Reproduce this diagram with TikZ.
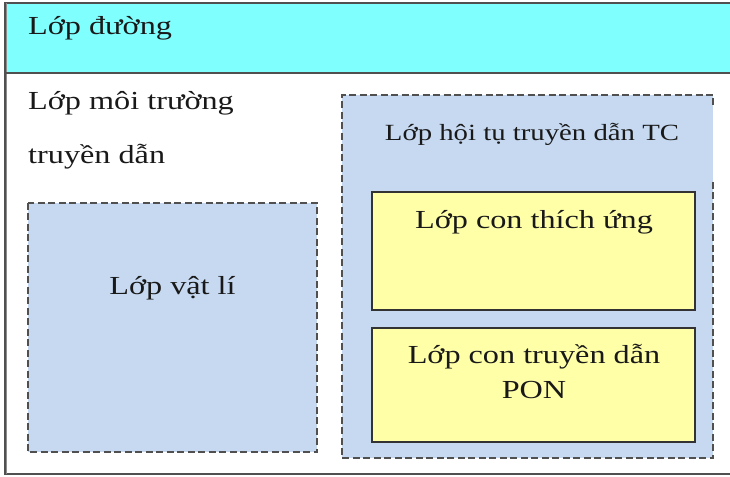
\documentclass[tikz,border=0pt]{standalone}
\usepackage{fontspec}
\setmainfont{Liberation Serif}[FakeStretch=1.24]
\definecolor{cyanband}{RGB}{128,255,255}
\definecolor{layerblue}{RGB}{198,217,241}
\definecolor{subyellow}{RGB}{255,255,168}
\definecolor{edgegrey}{RGB}{80,80,80}
\begin{document}
\begin{tikzpicture}[x=1pt,y=-1pt,
  lbl/.style={inner sep=0pt, text=black!90, font=\fontsize{26}{30}\selectfont},
  lblsmall/.style={inner sep=0pt, text=black!90, font=\fontsize{23.2}{27}\selectfont},
  frame/.style={draw=edgegrey, line width=2pt},
  dashline/.style={draw=edgegrey, line width=2.2pt, dash pattern=on 7pt off 3.5pt},
  bluebox/.style={fill=layerblue, inner sep=0pt},
  subbox/.style={draw=black!80, line width=1.7pt, fill=subyellow, inner sep=0pt}]
\useasboundingbox (0,0) rectangle (730,476);
\fill[white] (0,0) rectangle (730,476);

% outer frame with the cyan top band
\fill[cyanband] (5,3) rectangle (734,73);
\draw[frame] (734,3) -- (5,3) -- (5,474) -- (734,474);
\draw[draw=black!45, line width=1.2pt] (6.8,3) -- (6.8,474);
\draw[frame] (5,73) -- (734,73);
\node[lbl, anchor=base west] (duong) at (28,35) {Lớp đường};

% transmission medium layer
\node[lbl, anchor=base west] (moitruong) at (28,110) {Lớp môi trường};
\node[lbl, anchor=base west] (truyendan) at (28,163) {truyền dẫn};

% physical layer
\node[bluebox, minimum width=289pt, minimum height=249pt] (vatli) at (172.5,327.5) {};
\draw[dashline] (vatli.north west) rectangle (vatli.south east);
\node[lbl, anchor=base] (vatlitext) at (172.5,294) {Lớp vật lí};

% TC layer (its right edge is broken near the top)
\node[bluebox, minimum width=371pt, minimum height=363pt] (tc) at (527.5,276.5) {};
\draw[dashline] ([yshift=-87pt]tc.north east) -- (tc.south east) -- (tc.south west)
  -- (tc.north west) -- (tc.north east) -- ([yshift=-13pt]tc.north east);
\node[lblsmall, anchor=base] (tctext) at (532,140) {Lớp hội tụ truyền dẫn TC};

% sublayers
\node[subbox, minimum width=323pt, minimum height=118pt] (thichung) at (533.5,251) {};
\node[lbl, anchor=base] (thichungtext) at (534,228) {Lớp con thích ứng};
\node[subbox, minimum width=323pt, minimum height=114pt] (pon) at (533.5,385) {};
\node[lbl, anchor=base] (pontext1) at (534,363) {Lớp con truyền dẫn};
\node[lbl, anchor=base] (pontext2) at (534,398) {PON};
\end{tikzpicture}
\end{document}
